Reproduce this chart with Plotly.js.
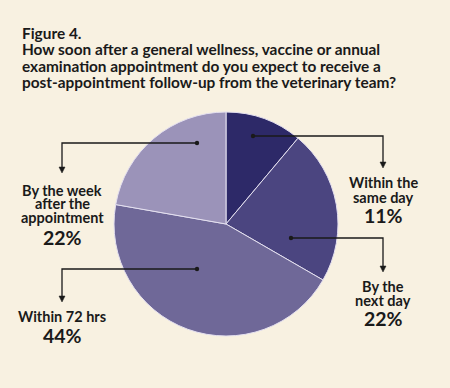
<!DOCTYPE html>
<html><head><meta charset="utf-8">
<script src="https://cdn.plot.ly/plotly-3.0.1.min.js"></script>
<style>html,body{margin:0;padding:0;background:#f8f1e1;}#chart{width:450px;height:388px;}</style>
</head><body><div id="chart"></div>
<script>
const categories = ["Within the same day", "By the next day", "Within 72 hrs", "By the week after the appointment"];
const labelLines = [["Within the", "same day"], ["By the", "next day"], ["Within 72 hrs"], ["By the week", "after the", "appointment"]];
const values = [11, 22, 44, 22];
const colors = ["#2d2968", "#4b4580", "#6f6898", "#9b93b9"];
const titleLines = ["Figure 4.", "How soon after a general wellness, vaccine or annual",
  "examination appointment do you expect to receive a",
  "post-appointment follow-up from the veterinary team?"];

const W = 450, H = 388;
const cx = 226, cy = 224, R = 112;
const px = x => x / W, py = y => 1 - y / H;

// callout geometry (pixels): dot, elbow x, arrow tip y, first label line centre, line step, percent centre
const callouts = [
  {dot:[253,136], ex:383, tip:168, ly:182, step:15, pct:215},
  {dot:[291,238], ex:383, tip:272, ly:286, step:14.5, pct:318},
  {dot:[197,269], ex:62, tip:302, ly:316, step:14, pct:335},
  {dot:[197,143], ex:62, tip:173, ly:190, step:13.5, pct:237}
];

const font = 'Lato, sans-serif';
const shapes = [], annotations = [];
callouts.forEach((c, i) => {
  const [dx, dy] = c.dot;
  shapes.push({type:'path', xref:'paper', yref:'paper',
    path:`M${px(dx)},${py(dy)} L${px(c.ex)},${py(dy)} L${px(c.ex)},${py(c.tip-5)}`,
    line:{color:'#1a1a1a', width:1.3}});
  shapes.push({type:'path', xref:'paper', yref:'paper',
    path:`M${px(c.ex-3)},${py(c.tip-6)} L${px(c.ex+3)},${py(c.tip-6)} L${px(c.ex)},${py(c.tip)} Z`,
    fillcolor:'#1a1a1a', line:{color:'#1a1a1a', width:0.5}});
  shapes.push({type:'circle', xref:'paper', yref:'paper',
    x0:px(dx-2.2), x1:px(dx+2.2), y0:py(dy-2.2), y1:py(dy+2.2),
    fillcolor:'#1a1a1a', line:{width:0}});
  labelLines[i].forEach((s, k) => {
    annotations.push({xref:'paper', yref:'paper', x:px(c.ex), y:py(c.ly + k*c.step),
      xanchor:'center', yanchor:'middle', showarrow:false, text:'<b>' + s + '</b>',
      font:{family:font, size:14.5, color:'#1a1a1a'}});
  });
  annotations.push({xref:'paper', yref:'paper', x:px(c.ex), y:py(c.pct),
    xanchor:'center', yanchor:'middle', showarrow:false, text:'<b>' + values[i] + '%</b>',
    font:{family:font, size:19.5, color:'#1a1a1a'}});
});

titleLines.forEach((s, k) => {
  annotations.push({xref:'paper', yref:'paper', x:px(20), y:py(33 + k*16.4), xanchor:'left', yanchor:'middle',
    showarrow:false, text:'<b>' + s + '</b>', font:{family:font, size:15.4, color:'#1a1a1a'}});
});

const data = [{
  type:'pie', labels:categories, values:values, sort:false, direction:'clockwise', rotation:0,
  marker:{colors:colors, line:{color:'#e4e0f0', width:1}},
  textinfo:'none', hoverinfo:'none', showlegend:false,
  domain:{x:[px(cx-R), px(cx+R)], y:[py(cy+R), py(cy-R)]}
}];
const layout = {width:W, height:H, margin:{l:0,r:0,t:0,b:0},
  paper_bgcolor:'#f8f1e1', plot_bgcolor:'#f8f1e1', shapes:shapes, annotations:annotations, showlegend:false};
Plotly.newPlot('chart', data, layout, {staticPlot:true, displayModeBar:false});
</script></body></html>
